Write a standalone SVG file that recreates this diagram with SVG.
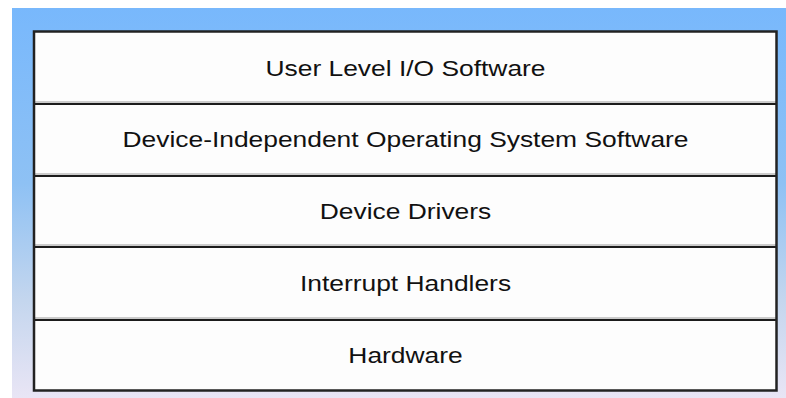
<svg xmlns="http://www.w3.org/2000/svg" width="786" height="398" viewBox="0 0 786 398">
  <defs>
    <linearGradient id="bg" x1="0" y1="0" x2="0" y2="1">
      <stop offset="0" stop-color="#78b8fc"/>
      <stop offset="0.45" stop-color="#8ec1f4"/>
      <stop offset="0.75" stop-color="#c4d6ee"/>
      <stop offset="1" stop-color="#e9e5f5"/>
    </linearGradient>
  </defs>
  <style>
    .lbl { font-family: "Liberation Sans", Arial, sans-serif; font-size: 22px; fill: #111; text-anchor: middle; }
    .cell { fill: #fdfdfd; stroke: none; }
    .div { stroke: #1c1c1c; stroke-width: 2; }
    .shadow { stroke: #9a9a9a; stroke-width: 1; }
  </style>
  <rect x="0" y="0" width="786" height="398" fill="#ffffff"/>
  <rect x="12" y="8" width="774" height="390" fill="url(#bg)"/>
  <rect x="34" y="31" width="743" height="360" class="cell"/>

  <g id="row-user-level">
    <text class="lbl" transform="translate(405.5,76) scale(1.2,1)">User Level I/O Software</text>
  </g>
  <g id="row-device-independent">
    <text class="lbl" transform="translate(405.5,147.3) scale(1.2,1)">Device-Independent Operating System Software</text>
  </g>
  <g id="row-device-drivers">
    <text class="lbl" transform="translate(405.5,219) scale(1.2,1)">Device Drivers</text>
  </g>
  <g id="row-interrupt-handlers">
    <text class="lbl" transform="translate(405.5,291) scale(1.2,1)">Interrupt Handlers</text>
  </g>
  <g id="row-hardware">
    <text class="lbl" transform="translate(405.5,362.5) scale(1.2,1)">Hardware</text>
  </g>

  <g id="lines">
    <line x1="35" y1="102" x2="776" y2="102" class="shadow"/>
    <line x1="35" y1="104" x2="776" y2="104" class="div"/>
    <line x1="35" y1="174" x2="776" y2="174" class="shadow"/>
    <line x1="35" y1="176" x2="776" y2="176" class="div"/>
    <line x1="35" y1="245" x2="776" y2="245" class="shadow"/>
    <line x1="35" y1="247" x2="776" y2="247" class="div"/>
    <line x1="35" y1="318" x2="776" y2="318" class="shadow"/>
    <line x1="35" y1="320" x2="776" y2="320" class="div"/>
    <rect x="34" y="31.5" width="742.5" height="359" fill="none" stroke="#222" stroke-width="2.5"/>
  </g>
</svg>
